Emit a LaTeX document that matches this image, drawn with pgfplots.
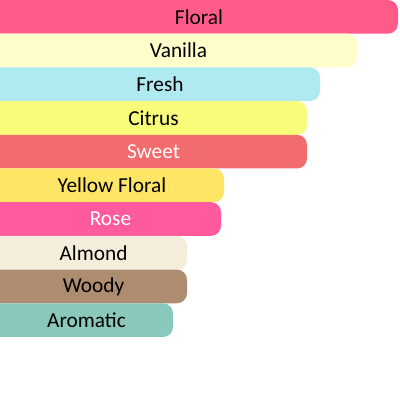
\documentclass[border=0pt]{standalone}
\usepackage{pgfplots}
\pgfplotsset{compat=1.18}
\usepackage{fontspec}
\setmainfont{Carlito}
\definecolor{cFloral}{HTML}{FF5C8A}
\definecolor{cVanilla}{HTML}{FFFDCA}
\definecolor{cFresh}{HTML}{AFEAF0}
\definecolor{cCitrus}{HTML}{F9FC7A}
\definecolor{cSweet}{HTML}{F26C6E}
\definecolor{cYellow}{HTML}{FFE565}
\definecolor{cRose}{HTML}{FF5A9E}
\definecolor{cAlmond}{HTML}{F5EDDC}
\definecolor{cWoody}{HTML}{AD8C70}
\definecolor{cAromatic}{HTML}{8AC8BC}
\begin{document}
\begin{tikzpicture}
\begin{axis}[
  name=main,
  width=300pt, height=300pt, scale only axis,
  xmin=0, xmax=400,
  ymin=-0.5, ymax=11.37,
  y dir=reverse,
  axis lines=none, ticks=none,
  clip=true,
  every axis plot/.append style={draw=none, mark=none, rounded corners=7.5pt},
]
\addplot[fill=cFloral] coordinates {(-20,-0.5) (398,-0.5) (398,0.5) (-20,0.5)} --cycle;
\addplot[fill=cVanilla] coordinates {(-20,0.5) (357,0.5) (357,1.5) (-20,1.5)} --cycle;
\addplot[fill=cFresh] coordinates {(-20,1.5) (320,1.5) (320,2.5) (-20,2.5)} --cycle;
\addplot[fill=cCitrus] coordinates {(-20,2.5) (307,2.5) (307,3.5) (-20,3.5)} --cycle;
\addplot[fill=cSweet] coordinates {(-20,3.5) (307,3.5) (307,4.5) (-20,4.5)} --cycle;
\addplot[fill=cYellow] coordinates {(-20,4.5) (224,4.5) (224,5.5) (-20,5.5)} --cycle;
\addplot[fill=cRose] coordinates {(-20,5.5) (221,5.5) (221,6.5) (-20,6.5)} --cycle;
\addplot[fill=cAlmond] coordinates {(-20,6.5) (187,6.5) (187,7.5) (-20,7.5)} --cycle;
\addplot[fill=cWoody] coordinates {(-20,7.5) (187,7.5) (187,8.5) (-20,8.5)} --cycle;
\addplot[fill=cAromatic] coordinates {(-20,8.5) (173,8.5) (173,9.5) (-20,9.5)} --cycle;
\addplot[draw=none, mark=none, rounded corners=0pt,
  nodes near coords, point meta=explicit symbolic,
  nodes near coords style={anchor=center, font=\fontsize{16}{18}\selectfont, text=black}]
  table[meta=label, x expr={\thisrow{x}/2}, y=y] {
x y label
398 0 Floral
357 1 Vanilla
320 2 Fresh
307 3 Citrus
224 5 {Yellow Floral}
187 7 Almond
187 8 Woody
173 9 Aromatic
};
\addplot[draw=none, mark=none, rounded corners=0pt,
  nodes near coords, point meta=explicit symbolic,
  nodes near coords style={anchor=center, font=\fontsize{16}{18}\selectfont, text=white}]
  table[meta=label, x expr={\thisrow{x}/2}, y=y] {
x y label
307 4 Sweet
221 6 Rose
};
\end{axis}
\pgfresetboundingbox
\path (main.south west) rectangle (main.north east);
\end{tikzpicture}
\end{document}
